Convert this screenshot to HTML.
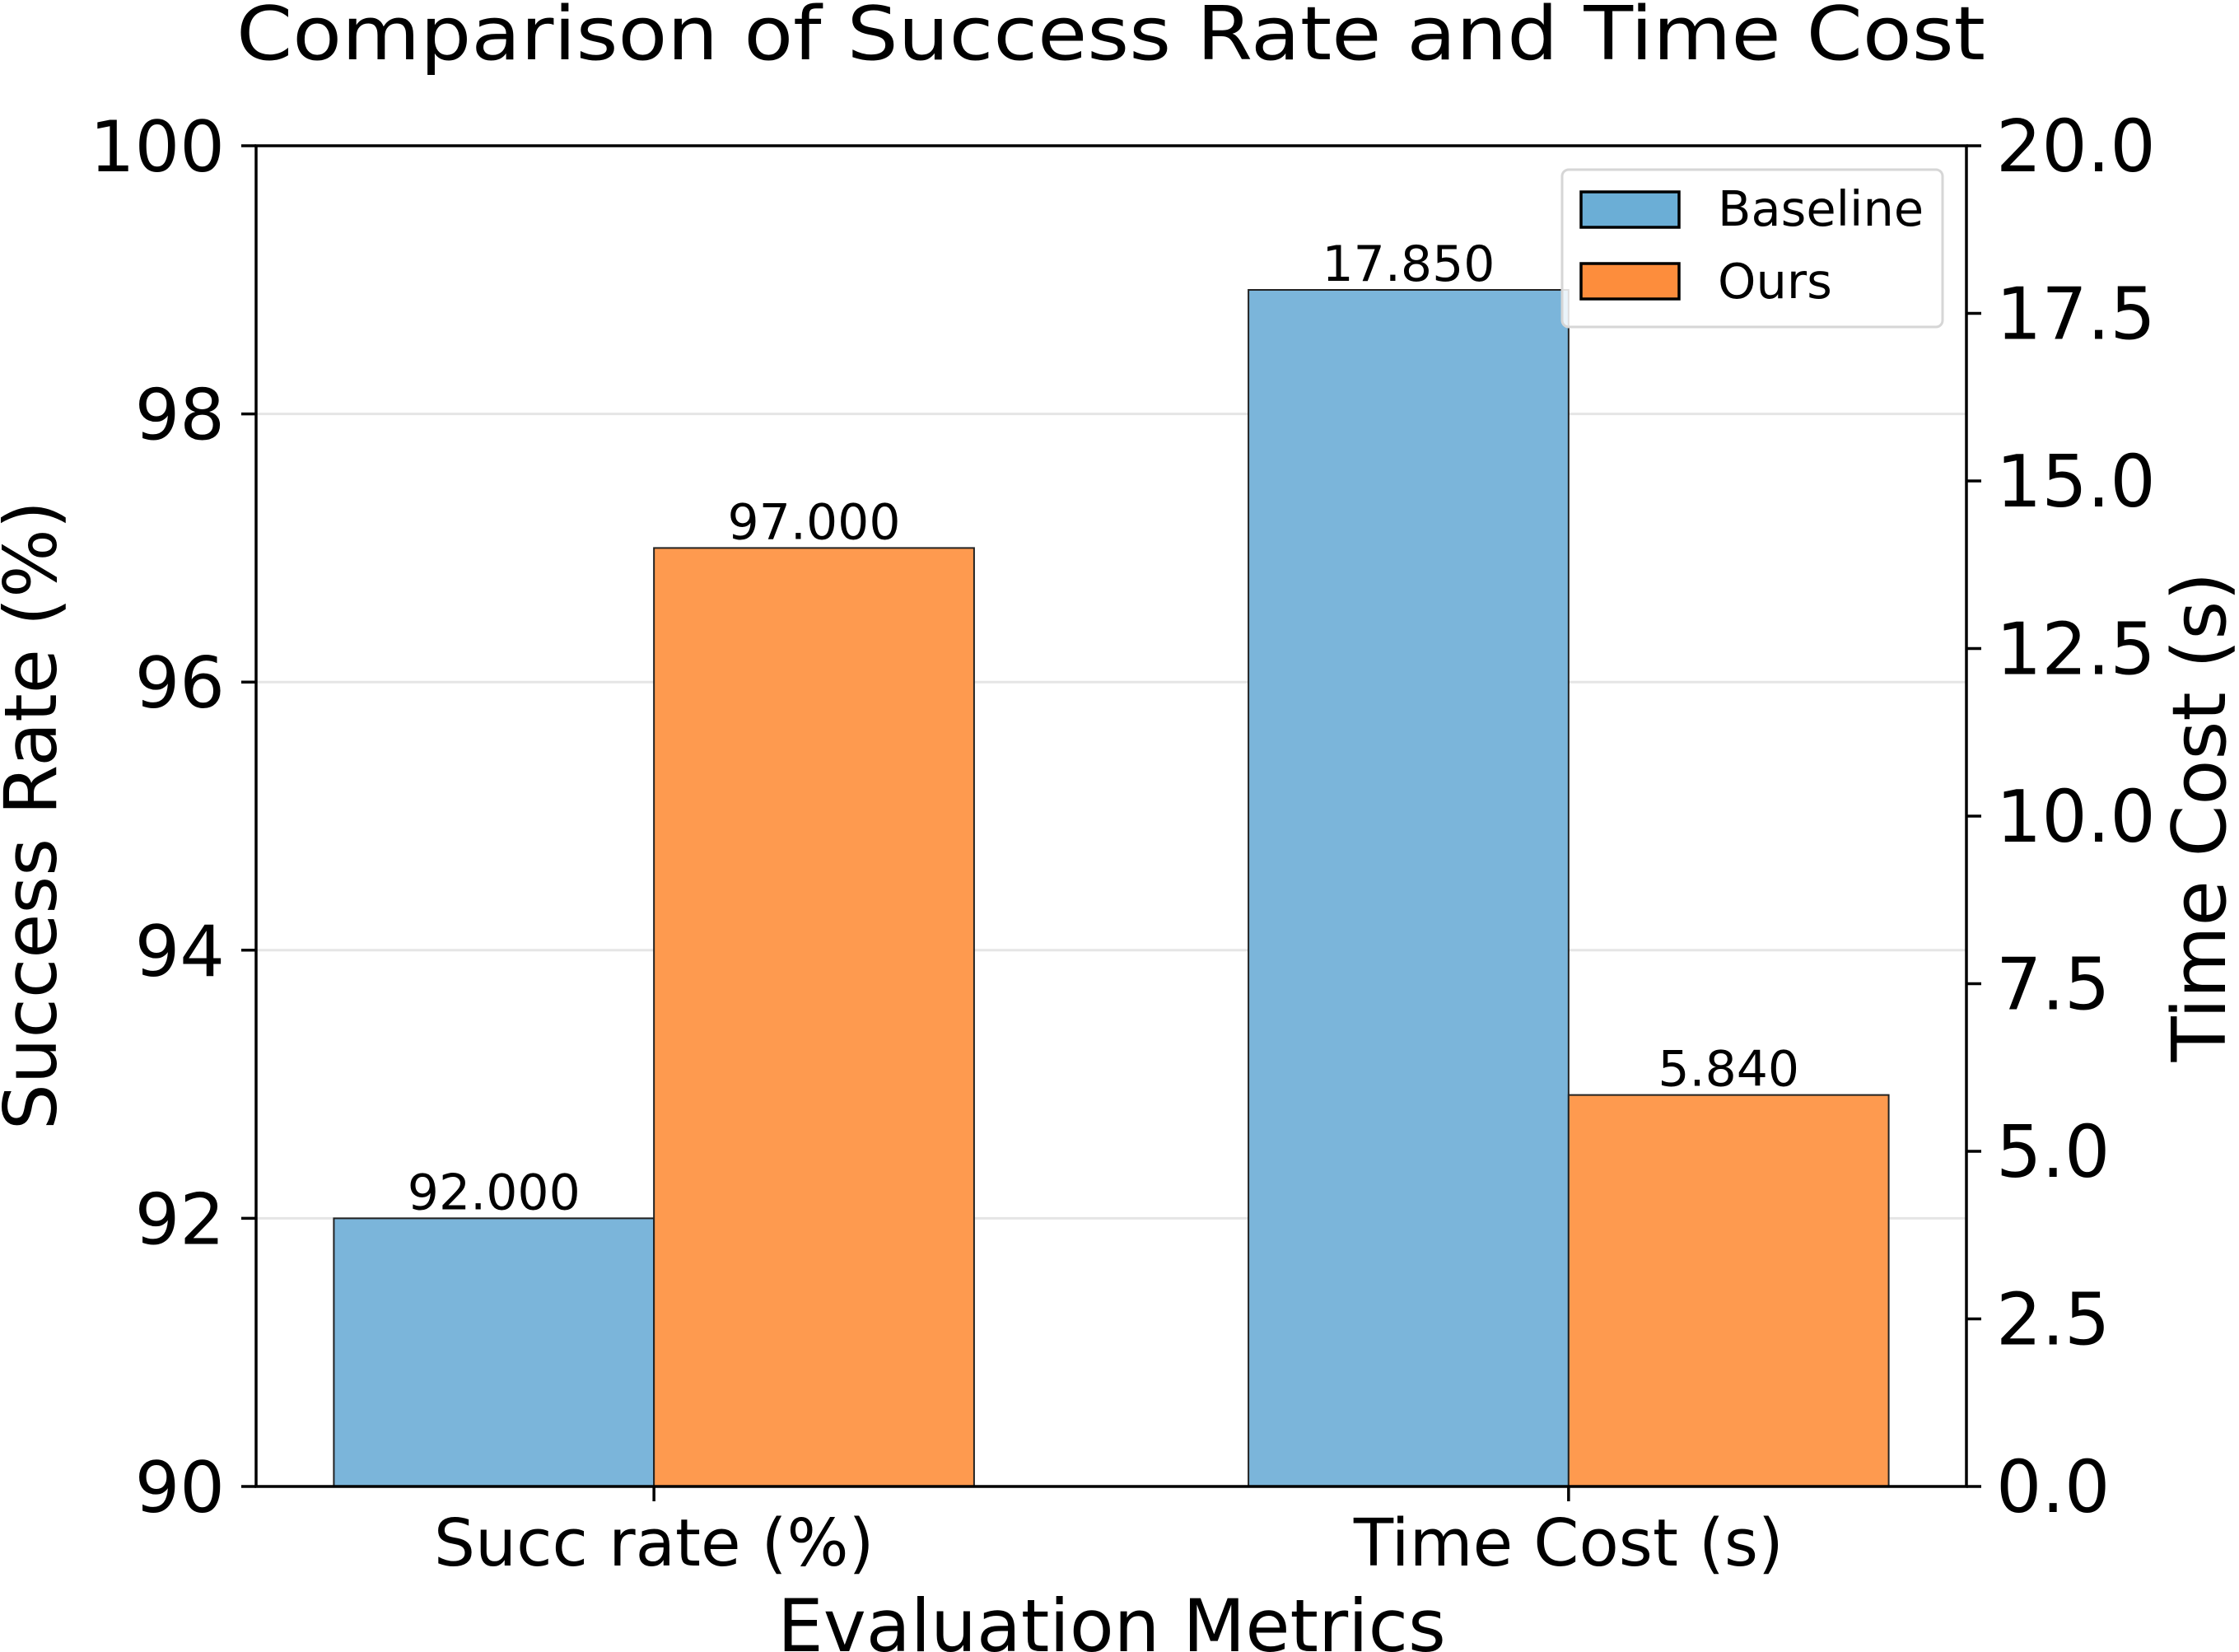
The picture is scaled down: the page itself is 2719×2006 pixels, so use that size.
<!DOCTYPE html>
<html><head><meta charset="utf-8"><style>
html,body{margin:0;padding:0;background:#fff;}
svg{display:block;font-family:"DejaVu Sans","Liberation Sans",sans-serif;}
</style></head><body>
<svg id="chart" width="2719" height="2006" viewBox="0 0 2719 2006" xmlns="http://www.w3.org/2000/svg">
<rect x="0" y="0" width="2719" height="2006" fill="#fff"/>
<g id="grid"></g><g id="bars"></g><g id="axes"></g>
</svg>
<script>
const categories = ["Succ rate (%)", "Time Cost (s)"];
const baselineValues = [92.0, 17.85];
const oursValues = [97.0, 5.84];
const valueLabels = [["92.000","97.000"],["17.850","5.840"]];
const leftTicks = [90, 92, 94, 96, 98, 100];
const rightTicks = [0, 2.5, 5, 7.5, 10, 12.5, 15, 17.5, 20];
const rightTickLabels = ["0.0","2.5","5.0","7.5","10.0","12.5","15.0","17.5","20.0"];

const NS = "http://www.w3.org/2000/svg";
const L = 311, R = 2388, T = 177, B = 1805;
const xMin = -0.435, xMax = 1.435, barW = 0.35;
const xs = v => L + (v - xMin) / (xMax - xMin) * (R - L);
const yl = v => B - (v - 90) / 10 * (B - T);
const yr = v => B - v / 20 * (B - T);
const blue = "#7bb5da", orange = "#fe9a4f";

function mk(tag, attrs, parent, text) {
  const e = document.createElementNS(NS, tag);
  for (const k in attrs) e.setAttribute(k, attrs[k]);
  if (text !== undefined) e.textContent = text;
  parent.appendChild(e);
  return e;
}
const grid = document.getElementById("grid");
const bars = document.getElementById("bars");
const axes = document.getElementById("axes");

leftTicks.forEach(t => {
  if (t === 90 || t === 100) return;
  const g = mk("line", {x1: L, x2: R, y1: yl(t), y2: yl(t), stroke: "#e5e5e5", "stroke-width": 3}, grid);
  
  
});

categories.forEach((c, i) => {
  const yf = i === 0 ? yl : yr;
  const base = i === 0 ? yl(90) : yr(0);
  [[baselineValues[i], blue, -1, "baseline"], [oursValues[i], orange, 0, "ours"]].forEach(([v, col, off, nm], j) => {
    const x0 = xs(i + off * barW);
    const x1 = xs(i + (off + 1) * barW);
    const y = yf(v);
    const r = mk("rect", {x: x0, y: y, width: x1 - x0, height: base - y, fill: col, stroke: "#222", "stroke-width": 2}, bars);
    
    
    const t = mk("text", {x: (x0 + x1) / 2, y: y - 11, "font-size": 60, "text-anchor": "middle", fill: "#000"}, bars, valueLabels[i][j]);
    
    
  });
});

const fr = mk("rect", {x: L, y: T, width: R - L, height: B - T, fill: "none", stroke: "#000", "stroke-width": 3.5}, axes);



leftTicks.forEach(t => {
  const y = yl(t);
  const tk = mk("line", {x1: L - 18, x2: L, y1: y, y2: y, stroke: "#000", "stroke-width": 3.5}, axes);
  
  
  const tl = mk("text", {x: L - 38, y: y + 31, "font-size": 86, "text-anchor": "end"}, axes, String(t));
  
  
});
rightTicks.forEach((t, k) => {
  const y = yr(t);
  const tk = mk("line", {x1: R, x2: R + 18, y1: y, y2: y, stroke: "#000", "stroke-width": 3.5}, axes);
  
  
  const tl = mk("text", {x: R + 36, y: y + 31, "font-size": 87, "text-anchor": "start"}, axes, rightTickLabels[k]);
  
  
});
categories.forEach((c, i) => {
  const x = xs(i);
  const tk = mk("line", {x1: x, x2: x, y1: B, y2: B + 18, stroke: "#000", "stroke-width": 3.5}, axes);
  
  
  const tl = mk("text", {x: x, y: 1901, "font-size": 79, "text-anchor": "middle"}, axes, c);
  
  
});

let e = mk("text", {x: 1349, y: 72, "font-size": 90, "text-anchor": "middle", textLength: 2124, lengthAdjust: "spacingAndGlyphs"}, axes, "Comparison of Success Rate and Time Cost");


e = mk("text", {x: 1350, y: 2005, "font-size": 88, "text-anchor": "middle"}, axes, "Evaluation Metrics");


e = mk("text", {x: 0, y: 0, "font-size": 88, "text-anchor": "middle", transform: "translate(68,990) rotate(-90)"}, axes, "Success Rate (%)");


e = mk("text", {x: 0, y: 0, "font-size": 90, "text-anchor": "middle", transform: "translate(2702,992) rotate(-90)"}, axes, "Time Cost (s)");



const lg = mk("g", {}, axes);


e = mk("rect", {x: 1897, y: 206, width: 462, height: 191, rx: 8, fill: "#fff", "fill-opacity": 0.85, stroke: "#d6d6d6", "stroke-width": 3}, lg);


[["Baseline", "#6baed6", 233, 274], ["Ours", "#fd8d3c", 320, 362]].forEach(([n, col, py, ty]) => {
  const p = mk("rect", {x: 1920, y: py, width: 119, height: 43, fill: col, stroke: "#000", "stroke-width": 3.5}, lg);
  
  
  const t = mk("text", {x: 2086, y: ty, "font-size": 59}, lg, n);
  
  
});
</script>
</body></html>
